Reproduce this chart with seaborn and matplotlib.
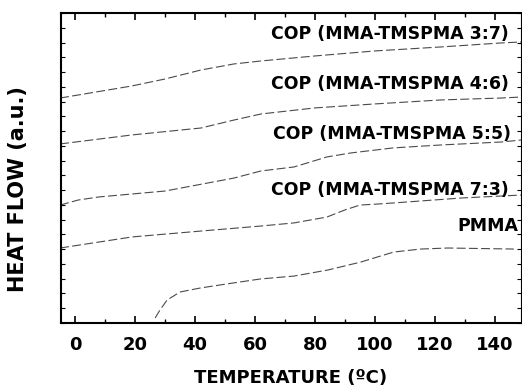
import numpy as np
import pandas as pd
import matplotlib
matplotlib.use("Agg")
import matplotlib.pyplot as plt
import seaborn as sns
from matplotlib.ticker import MultipleLocator

# ---- data (heat flow in arbitrary units) ----
t_37 = [-5, 19, 30, 42, 53, 62, 80, 100, 122, 142, 149]
h_37 = [15.24, 16.06, 16.53, 17.14, 17.55, 17.75, 18.09, 18.43, 18.70, 18.97, 19.04]

t_46 = [-5, 19, 42, 53, 62, 80, 100, 122, 142, 149]
h_46 = [12.13, 12.74, 13.21, 13.75, 14.16, 14.57, 14.84, 15.11, 15.24, 15.31]

t_55 = [-5, 1, 8, 30, 53, 62, 73, 84, 92, 106, 122, 142, 149]
h_55 = [7.99, 8.33, 8.54, 8.94, 9.82, 10.30, 10.57, 11.25, 11.52, 11.86, 12.06, 12.26, 12.40]

t_73 = [-5, 19, 42, 62, 73, 84, 90, 95, 101, 106, 129, 149]
h_73 = [5.08, 5.83, 6.23, 6.57, 6.78, 7.18, 7.66, 7.99, 8.06, 8.13, 8.47, 8.67]

t_pmma = [26.7, 28.3, 30.7, 35, 41.7, 52.7, 61.7, 73, 84.3, 95.3, 106.3, 115.3, 124.3, 146.3]
h_pmma = [0.34, 0.88, 1.56, 2.10, 2.37, 2.71, 2.98, 3.18, 3.59, 4.13, 4.81, 5.01, 5.08, 5.01]

labels = ["COP (MMA-TMSPMA 3:7)", "COP (MMA-TMSPMA 4:6)", "COP (MMA-TMSPMA 5:5)",
          "COP (MMA-TMSPMA 7:3)", "PMMA"]
label_x = [144.7, 144.7, 145.3, 144.7, 147.7]
label_y = [19.58, 16.2, 12.8, 9.0, 6.6]

xticks = [0, 20, 40, 60, 80, 100, 120, 140]

series = [(t_37, h_37), (t_46, h_46), (t_55, h_55), (t_73, h_73), (t_pmma, h_pmma)]
frames = []
for name, (t, h) in zip(labels, series):
    frames.append(pd.DataFrame({"T": t, "H": h, "sample": name}))
df = pd.concat(frames, ignore_index=True)

sns.set_theme(style="ticks")
plt.rcParams["font.family"] = ["DejaVu Sans"]
plt.rcParams["text.color"] = "black"
plt.rcParams["axes.labelcolor"] = "black"
plt.rcParams["xtick.color"] = "black"
plt.rcParams["ytick.color"] = "black"

fig = plt.figure(figsize=(5.22, 3.89), dpi=100)
ax = fig.add_axes([61 / 522, 66 / 389, 460 / 522, 310 / 389])

sns.lineplot(data=df, x="T", y="H", hue="sample", style="sample",
             palette=["#4a4a4a"] * 5, dashes={n: (8, 3) for n in labels},
             estimator=None, sort=False, lw=0.8, legend=False, ax=ax)

for lab, lx, ly in zip(labels, label_x, label_y):
    ax.text(lx, ly, lab, ha="right", va="center", fontsize=12.5,
            fontweight="bold", color="black")

ax.set_xlim(-4.7, 148.7)
ax.set_ylim(0, 21)
ax.set_xticks(xticks)
ax.set_xticklabels([str(v) for v in xticks])
ax.xaxis.set_minor_locator(MultipleLocator(10))
ax.yaxis.set_minor_locator(MultipleLocator(1))
ax.set_yticks([])
ax.tick_params(axis="x", which="major", direction="in", length=5, width=1.2,
               top=True, bottom=True, labelsize=13, pad=9, colors="black")
ax.tick_params(axis="x", which="minor", direction="in", length=3, width=1.0,
               top=True, bottom=True)
ax.tick_params(axis="y", which="minor", direction="in", length=3, width=0.8,
               left=True, right=True)
for lab in ax.get_xticklabels():
    lab.set_fontweight("bold")

ax.set_xlabel("TEMPERATURE (ºC)", fontsize=13, fontweight="bold", labelpad=11,
              color="black")
ax.set_ylabel("HEAT FLOW (a.u.)", fontsize=15, fontweight="bold", color="black")
ax.yaxis.set_label_coords(-0.072, 0.432)

for side in ["left", "bottom", "top"]:
    ax.spines[side].set_linewidth(1.5)
    ax.spines[side].set_color("black")
ax.spines["right"].set_linewidth(0.8)
ax.spines["right"].set_color("black")
ax.set_facecolor("white")

fig.savefig("out.png", dpi=100, facecolor="white")
